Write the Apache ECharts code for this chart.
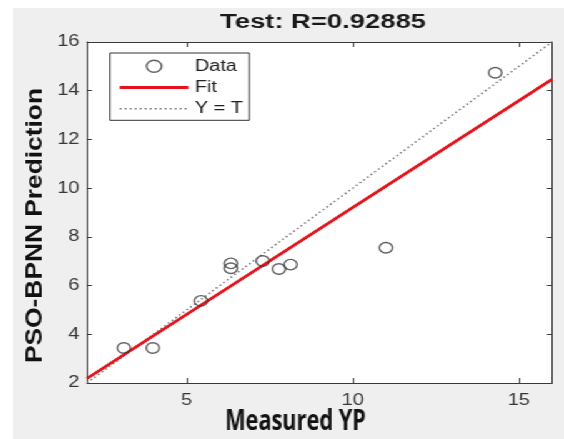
<!DOCTYPE html>
<html><head><meta charset="utf-8">
<script src="https://cdn.jsdelivr.net/npm/echarts@6/dist/echarts.min.js"></script>
<style>
html,body{margin:0;padding:0;background:#fff;width:564px;height:439px;overflow:hidden}
#wrap{position:absolute;left:13px;top:8px;width:441px;height:431px;background:#efefef;transform:scaleX(1.2494);transform-origin:0 0}
#chart{width:441px;height:431px}
</style></head><body><div id="wrap"><div id="chart"></div></div>
<script>
// ---- data ----
const measuredT  = [3.11, 3.98, 5.43, 6.33, 6.33, 7.29, 7.78, 8.13, 11.0, 14.29];
const predictedY = [3.44, 3.44, 5.37, 6.91, 6.71, 7.01, 6.68, 6.86, 7.55, 14.74];
const fitCoeffs  = [0.877, 0.43];          // slope, intercept of the Fit line
const axisRange  = [2, 16];
const xTickValues = [5, 10, 15];
const yTickValues = [2, 4, 6, 8, 10, 12, 14, 16];
const legendNames = ['Data', 'Fit', 'Y = T'];
const titleText = 'Test: R=0.92885';
const xName = 'Measured YP';
const yName = 'PSO-BPNN Prediction';

// ---- build ----
const S = 1.2494; // horizontal stretch of the reference
const ix = X => (X - 13) / S;   // outer px -> inner px
const iy = Y => Y - 8;

const scatterData = measuredT.map((t, i) => [t, predictedY[i]]);
const fitData = axisRange.map(t => [t, fitCoeffs[0] * t + fitCoeffs[1]]);
const identData = axisRange.map(t => [t, t]);

const cv = document.createElement('canvas').getContext('2d');
function measure(font, txt) { cv.font = font; return cv.measureText(txt).width; }

const titleFont = 'bold 20px "Liberation Sans", Arial, sans-serif';
const xNameFont = 'bold 28px "Open Sans", "Liberation Sans", sans-serif';
const yNameFont = 'bold 19px "Liberation Sans", Arial, sans-serif';
const titleScale = (206 / S) / measure(titleFont, titleText);
const xNameScale = (141 / S) / measure(xNameFont, xName);
const yNameScale = 275 / measure(yNameFont, yName);

const axisCol = '#3a3a3a';
const labelStyle = { fontSize: 16, color: '#383838', fontFamily: '"Liberation Sans", Arial, sans-serif' };
const hiddenItem = { color: 'rgba(0,0,0,0)', borderWidth: 0, opacity: 0 };

const chart = echarts.init(document.getElementById('chart'), null, { renderer: 'canvas' });
chart.setOption({
  animation: false,
  backgroundColor: 'transparent',
  grid: {
    left: ix(87), right: 441 - ix(552), top: iy(42), bottom: 431 - iy(383),
    show: true, backgroundColor: '#fff', borderWidth: 0, containLabel: false, outerBoundsMode: 'none'
  },
  xAxis: [
    { type: 'value', min: axisRange[0], max: axisRange[1], position: 'bottom',
      axisLine: { show: true, onZero: false, lineStyle: { color: axisCol, width: 1 } },
      axisTick: { show: true, inside: true, length: 5, customValues: xTickValues, lineStyle: { color: axisCol } },
      axisLabel: Object.assign({ customValues: xTickValues, margin: 10 }, labelStyle),
      splitLine: { show: false } },
    { type: 'value', min: axisRange[0], max: axisRange[1], position: 'top',
      axisLine: { show: true, onZero: false, lineStyle: { color: axisCol, width: 1 } },
      axisTick: { show: true, inside: true, length: 5, customValues: xTickValues, lineStyle: { color: axisCol } },
      axisLabel: { show: false }, splitLine: { show: false } }
  ],
  yAxis: [
    { type: 'value', min: axisRange[0], max: axisRange[1], interval: 2, position: 'left',
      axisLine: { show: true, onZero: false, lineStyle: { color: axisCol, width: 1 } },
      axisTick: { show: true, inside: true, length: 4, lineStyle: { color: axisCol } },
      axisLabel: Object.assign({ margin: 6, customValues: yTickValues }, labelStyle),
      splitLine: { show: false } },
    { type: 'value', min: axisRange[0], max: axisRange[1], interval: 2, position: 'right',
      axisLine: { show: true, onZero: false, lineStyle: { color: axisCol, width: 1 } },
      axisTick: { show: true, inside: true, length: 4, lineStyle: { color: axisCol } },
      axisLabel: { show: false }, splitLine: { show: false } }
  ],
  legend: {
    orient: 'vertical', left: ix(110), top: iy(53),
    data: [
      { name: legendNames[0] },
      { name: legendNames[1], itemStyle: hiddenItem },
      { name: legendNames[2], itemStyle: hiddenItem }
    ],
    itemWidth: 55, itemHeight: 12, itemGap: 5.3,
    padding: [5.2, 5, 3.5, 6.4],
    backgroundColor: '#fff', borderColor: '#333', borderWidth: 1, borderRadius: 0,
    itemStyle: { borderWidth: 'inherit' },
    lineStyle: { width: 'inherit' },
    textStyle: { fontFamily: '"Liberation Sans", Arial, sans-serif', fontSize: 16, color: '#222', lineHeight: 16 }
  },
  series: [
    { name: legendNames[2], type: 'line', data: identData, symbol: 'none', z: 2,
      itemStyle: hiddenItem,
      lineStyle: { color: '#7a7a7a', width: 1.5, type: [1.5, 2.5] } },
    { name: legendNames[1], type: 'line', data: fitData, symbol: 'none', z: 3,
      itemStyle: hiddenItem,
      lineStyle: { color: '#e5121b', width: 2.8 } },
    { name: legendNames[0], type: 'scatter', data: scatterData, symbol: 'circle', symbolSize: 10.5, z: 4,
      itemStyle: { color: 'rgba(0,0,0,0)', borderColor: '#3a3a3a', borderWidth: 1.4 } }
  ],
  graphic: [
    { type: 'text', x: ix(323), y: iy(22), scaleX: titleScale, z: 10,
      style: { text: titleText, font: titleFont, fill: '#1a1a1a', align: 'center', verticalAlign: 'middle' } },
    { type: 'text', x: ix(295.5), y: iy(422), scaleX: xNameScale, z: 10,
      style: { text: xName, font: xNameFont, fill: '#111', align: 'center', verticalAlign: 'middle' } },
    { type: 'text', x: ix(35), y: iy(225.5), rotation: Math.PI / 2, scaleX: yNameScale, z: 10,
      style: { text: yName, font: yNameFont, fill: '#111', align: 'center', verticalAlign: 'middle' } }
  ]
});
</script></body></html>
